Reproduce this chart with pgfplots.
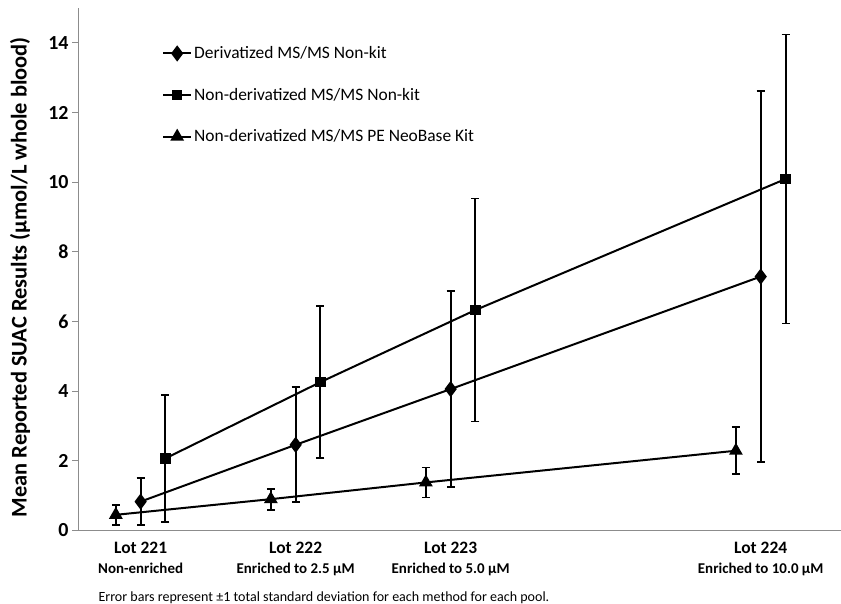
\documentclass[border=0pt]{standalone}
\usepackage{fontspec}
\setmainfont{Carlito}
\usepackage{pgfplots}
\pgfplotsset{compat=1.18}

\definecolor{axgray}{HTML}{8C8C8C}

\newcommand{\lotlab}[2]{{\fontsize{17.5}{19}\selectfont\bfseries #1}\\[8bp]{\fontsize{15}{17}\selectfont\bfseries #2}}

% x = enrichment (uM); triangles shifted -0.4, squares +0.4 so bars do not overlap
\begin{document}
\begin{tikzpicture}
\useasboundingbox (0,0) rectangle (841bp,604bp);
\begin{axis}[
  at={(78bp,73.5bp)}, anchor=south west,
  scale only axis,
  width=763bp, height=522.5bp,
  xmin=-1.01, xmax=11.295,
  ymin=0, ymax=15,
  axis x line=bottom, axis y line=left,
  axis line style={axgray, line width=1bp, -},
  xtick={0,2.5,5,10},
  xticklabels={
    {\lotlab{Lot 221}{Non-enriched}},
    {\lotlab{Lot 222}{Enriched to 2.5 µM}},
    {\lotlab{Lot 223}{Enriched to 5.0 µM}},
    {\lotlab{Lot 224}{Enriched to 10.0 µM}}},
  x tick label style={align=center, anchor=north, yshift=-2bp},
  major x tick style={draw=none},
  ytick={0,2,...,14},
  yticklabel={\fontsize{20}{21}\selectfont\bfseries\pgfmathprintnumber{\tick}},
  /pgf/number format/assume math mode=true,
  major y tick style={axgray, line width=1bp},
  tick align=outside, tick pos=left,
  major tick length=6bp,
  ylabel={Mean Reported SUAC Results (µmol/L whole blood)},
  ylabel style={font=\fontsize{22.5}{24}\selectfont\bfseries,
    at={(axis description cs:0,0.5)}, anchor=center, yshift=58bp, xshift=-8bp},
  clip=false,
  legend style={draw=none, fill=none, at={(81bp,488bp)}, anchor=north west,
    font=\fontsize{17.5}{19}\selectfont, row sep=24bp, cells={anchor=west}},
  legend image code/.code={
    \draw[#1, mark repeat=2, mark phase=2] plot coordinates {(0bp,0bp) (14bp,0bp) (28bp,0bp)};},
  every axis plot/.append style={black, line width=2bp},
  error bars/y dir=both, error bars/y explicit,
  error bars/error bar style={black, line width=2bp},
  error bars/error mark options={black, line width=1.8bp, mark size=4bp, rotate=90},
]
\addplot[mark=diamond*, mark size=6.5bp] coordinates {
  (0,0.83) +- (0,0.68)
  (2.5,2.46) +- (0,1.65)
  (5,4.06) +- (0,2.82)
  (10,7.29) +- (0,5.32)
};
\addlegendentry{Derivatized MS/MS Non-kit}
\addplot[mark=square*, mark size=4.3bp] coordinates {
  (0.4,2.07) +- (0,1.82)
  (2.9,4.26) +- (0,2.18)
  (5.4,6.33) +- (0,3.20)
  (10.4,10.09) +- (0,4.15)
};
\addlegendentry{Non-derivatized MS/MS Non-kit}
\addplot[mark=triangle*, mark size=6bp] coordinates {
  (-0.4,0.45) +- (0,0.29)
  (2.1,0.90) +- (0,0.30)
  (4.6,1.38) +- (0,0.43)
  (9.6,2.29) +- (0,0.67)
};
\addlegendentry{Non-derivatized MS/MS PE NeoBase Kit}
\end{axis}
\node[anchor=west, font=\fontsize{14.1}{15}\selectfont] at (95bp,6.5bp)
  {Error bars represent ±1 total standard deviation for each method for each pool.};
\end{tikzpicture}
\end{document}
